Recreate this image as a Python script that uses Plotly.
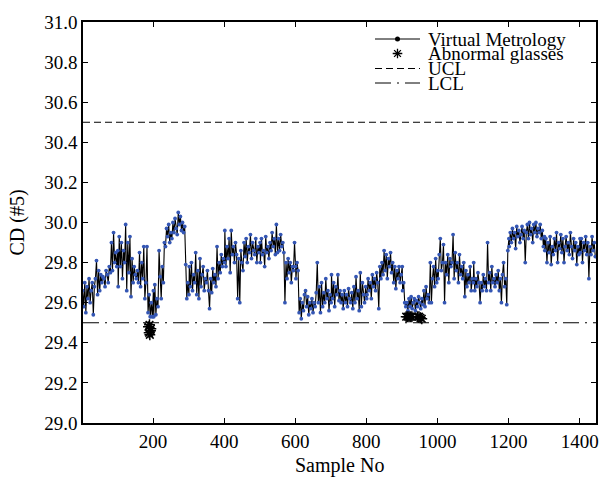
import plotly.graph_objects as go

# Virtual-metrology CD predictions, one value every 3rd glass, in 100-sample blocks
cd_0000 = [29.66, 29.58, 29.70, 29.55, 29.68, 29.62, 29.72, 29.60, 29.66, 29.70,
           29.54, 29.68, 29.72, 29.81, 29.64, 29.76, 29.66, 29.74, 29.70, 29.73,
           29.72, 29.68, 29.76, 29.74, 29.70, 29.78, 29.75, 29.90,
           29.76, 29.95, 29.80, 29.85, 29.78, 29.86]
cd_0100 = [29.68, 29.93, 29.78, 29.90, 29.72, 29.86, 29.80, 29.99,
           29.66, 29.90, 29.75, 29.93, 29.63, 29.82, 29.70, 29.78, 29.74, 29.72,
           29.76, 29.70, 29.85, 29.68, 29.80, 29.72,
           29.88, 29.62, 29.70, 29.88, 29.55, 29.64, 29.53, 29.60, 29.53, 29.66]
cd_0200 = [29.53, 29.69, 29.54, 29.62, 29.58,
           29.86, 29.73, 29.62, 29.78, 29.70,
           29.90, 29.88, 29.97, 29.93, 29.99, 29.90, 29.95, 29.92,
           30.00, 29.95, 30.02, 29.97, 29.94, 30.05, 29.99, 30.03, 29.96, 30.00, 29.95, 29.98,
           29.79, 29.62, 29.70, 29.64]
cd_0300 = [29.78, 29.68, 29.80, 29.66, 29.74, 29.70, 29.85, 29.64, 29.76, 29.62,
           29.82, 29.68, 29.74, 29.78, 29.66, 29.72, 29.70, 29.76, 29.66,
           29.57,
           29.72, 29.65, 29.77, 29.70, 29.74, 29.68,
           29.88, 29.72, 29.80, 29.75, 29.84, 29.78, 29.82, 29.80]
cd_0400 = [29.96, 29.78, 29.88, 29.82, 29.92, 29.75, 29.96, 29.84, 29.88, 29.80, 29.90, 29.84,
           29.62, 29.82, 29.60, 29.86, 29.80, 29.76,
           29.90, 29.83, 29.92, 29.80, 29.88, 29.85, 29.94, 29.82, 29.90, 29.86,
           29.84, 29.92, 29.80, 29.88, 29.85, 29.90]
cd_0500 = [29.80, 29.92, 29.84, 29.86, 29.78, 29.93, 29.85, 29.88, 29.82,
           29.90, 29.86, 29.95, 29.88, 29.92, 29.84, 29.99, 29.85, 29.92, 29.86,
           29.94, 29.88, 29.90, 29.85,
           29.60,
           29.80, 29.72, 29.82, 29.75, 29.80, 29.70, 29.78, 29.76, 29.90, 29.78]
cd_0600 = [29.72, 29.80, 29.76,
           29.55, 29.62, 29.52, 29.60, 29.56, 29.64, 29.66, 29.58, 29.63, 29.54,
           29.60, 29.57, 29.62, 29.55, 29.60, 29.58, 29.65,
           29.80,
           29.60, 29.68, 29.55, 29.70, 29.58, 29.65, 29.60, 29.72, 29.62, 29.66,
           29.56, 29.64, 29.60]
cd_0700 = [29.74, 29.62, 29.70, 29.58, 29.68, 29.64, 29.74, 29.61, 29.66, 29.60, 29.64,
           29.57, 29.66, 29.60, 29.64, 29.58, 29.67, 29.62, 29.60, 29.65, 29.57,
           29.68, 29.60, 29.73, 29.62, 29.66, 29.56, 29.75, 29.58, 29.70, 29.64,
           29.60, 29.68, 29.62]
cd_0800 = [29.64, 29.72, 29.66, 29.70, 29.62, 29.74, 29.68, 29.72, 29.66, 29.75, 29.70, 29.57,
           29.78, 29.72, 29.80, 29.74, 29.86, 29.76, 29.84, 29.72, 29.82, 29.78, 29.85,
           29.75, 29.80,
           29.70, 29.78, 29.67, 29.76, 29.72, 29.78, 29.70, 29.74, 29.78]
cd_0900 = [29.66, 29.70, 29.60, 29.58,
           29.60, 29.56, 29.62, 29.58, 29.63, 29.57, 29.60, 29.62, 29.56, 29.61,
           29.58, 29.63, 29.60, 29.57, 29.62, 29.59,
           29.66, 29.58, 29.68, 29.62, 29.64, 29.60,
           29.80, 29.60, 29.72, 29.78, 29.68, 29.82, 29.70, 29.76]
cd_1000 = [29.72, 29.84, 29.92, 29.76, 29.80, 29.89, 29.60, 29.80,
           29.74, 29.84, 29.70, 29.82, 29.78, 29.80, 29.94, 29.72, 29.85, 29.76,
           29.80, 29.70, 29.84, 29.74, 29.78, 29.72, 29.80,
           29.63, 29.76, 29.68, 29.74, 29.70, 29.78, 29.66, 29.72, 29.70]
cd_1100 = [29.80, 29.66, 29.72, 29.68, 29.75, 29.70, 29.60, 29.70, 29.66, 29.74,
           29.68, 29.72, 29.66, 29.90,
           29.70, 29.75, 29.66, 29.78, 29.70, 29.72, 29.68, 29.74, 29.70, 29.76,
           29.66, 29.72, 29.60,
           29.74, 29.80, 29.68, 29.72,
           29.59,
           29.86, 29.92]
cd_1200 = [29.88, 29.95, 29.90, 29.97, 29.92, 29.95, 29.87, 29.98, 29.93, 29.96,
           29.90, 29.94, 29.98, 29.92, 29.96, 29.80, 29.95, 29.99, 29.92, 30.00,
           29.94, 29.97, 29.90, 29.99, 29.95, 30.00, 29.93, 29.97, 29.95, 29.99,
           29.92, 29.96, 29.88, 29.93]
cd_1300 = [29.86, 29.92, 29.80, 29.90, 29.85, 29.93, 29.79, 29.88, 29.84, 29.92,
           29.86, 29.95, 29.80, 29.90, 29.87, 29.94, 29.85, 29.92, 29.80, 29.88,
           29.93, 29.86, 29.90, 29.84, 29.95, 29.88, 29.82, 29.92, 29.86, 29.90,
           29.79, 29.88, 29.84, 29.92]
cd_1400 = [29.85, 29.92, 29.80, 29.90, 29.86, 29.93, 29.84, 29.90, 29.72, 29.88,
           29.84, 29.93, 29.86, 29.90, 29.83]

cd_blocks = [cd_0000, cd_0100, cd_0200, cd_0300, cd_0400, cd_0500, cd_0600, cd_0700,
             cd_0800, cd_0900, cd_1000, cd_1100, cd_1200, cd_1300, cd_1400]

# sample numbers: each block starts at 100*k + 2 and steps by 3
sample_no, cd_vm = [], []
for k, block in enumerate(cd_blocks):
    sample_no += [100 * k + 2 + 3 * j for j in range(len(block))]
    cd_vm += block

# Glasses flagged as abnormal
abn_sample = [187, 189, 190, 191, 193, 194, 912, 916, 920, 924, 928, 944, 948, 952, 956]
abn_cd = [29.48, 29.45, 29.49, 29.44, 29.46, 29.47, 29.53, 29.53, 29.53, 29.53, 29.53,
          29.53, 29.53, 29.525, 29.52]

# Control limits
ucl = 30.5
lcl = 29.5

x_range = [3, 1446]
y_range = [29.0, 31.0]
x_ticks = [200, 400, 600, 800, 1000, 1200, 1400]
y_ticks = [29.0, 29.2, 29.4, 29.6, 29.8, 30.0, 30.2, 30.4, 30.6, 30.8, 31.0]

FONT = "Liberation Serif, Times New Roman, serif"
VM_BLUE = "rgb(52,86,180)"
UCL_DASH = "7px,4px"
LCL_DASH = "16px,6px,2px,6px"

# plot area in pixels, used to place the hand-built legend
W, H = 612, 480
L, R, T, B = 83, 16, 22, 57


def px_to_unit(px, py):
    return (px - L) / (W - L - R), (H - B - py) / (H - T - B)


fig = go.Figure()

fig.add_trace(go.Scatter(
    x=sample_no, y=cd_vm, mode="lines+markers",
    line=dict(color="black", width=1.1),
    marker=dict(color=VM_BLUE, size=3.8, line=dict(width=0)),
    showlegend=False))

fig.add_trace(go.Scatter(
    x=x_range, y=[ucl, ucl], mode="lines",
    line=dict(color="black", width=1, dash=UCL_DASH), showlegend=False))
fig.add_trace(go.Scatter(
    x=x_range, y=[lcl, lcl], mode="lines",
    line=dict(color="black", width=1, dash=LCL_DASH), showlegend=False))

fig.add_trace(go.Scatter(
    x=abn_sample, y=abn_cd, mode="markers",
    marker=dict(symbol="asterisk-open", size=9, color="black",
                line=dict(color="black", width=1.5)),
    showlegend=False))

# Legend keys drawn on an overlay axis spanning [0, 1]
rows = [39, 53.5, 68.5, 83]
labels = ["Virtual Metrology", "Abnormal glasses", "UCL", "LCL"]
x0, _ = px_to_unit(375, 0)
x1, _ = px_to_unit(420, 0)
xc, _ = px_to_unit(397.5, 0)
xt, _ = px_to_unit(426, 0)
v = [px_to_unit(0, r)[1] for r in rows]

key_kw = dict(xaxis="x2", yaxis="y2", showlegend=False, hoverinfo="skip")
fig.add_trace(go.Scatter(x=[x0, x1], y=[v[0], v[0]], mode="lines",
                         line=dict(color="black", width=1), **key_kw))
fig.add_trace(go.Scatter(x=[xc], y=[v[0]], mode="markers",
                         marker=dict(color="black", size=5), **key_kw))
fig.add_trace(go.Scatter(x=[xc], y=[v[1]], mode="markers",
                         marker=dict(symbol="asterisk-open", size=8, color="black",
                                     line=dict(color="black", width=1.3)), **key_kw))
fig.add_trace(go.Scatter(x=[x0, x1], y=[v[2], v[2]], mode="lines",
                         line=dict(color="black", width=1, dash=UCL_DASH), **key_kw))
fig.add_trace(go.Scatter(x=[x0, x1], y=[v[3], v[3]], mode="lines",
                         line=dict(color="black", width=1, dash=LCL_DASH), **key_kw))

text_font = dict(family=FONT, size=20, color="black")
annotations = [
    dict(x=xt, y=v[i], xref="x2", yref="y2", text=labels[i], showarrow=False,
         xanchor="left", yanchor="middle", font=dict(family=FONT, size=19, color="black"))
    for i in range(4)
]
annotations.append(dict(x=0.5, y=-0.105, xref="paper", yref="paper", text="Sample No",
                        showarrow=False, xanchor="center", yanchor="middle", font=text_font))
annotations.append(dict(x=(17 - L) / (W - L - R), y=0.5, xref="paper", yref="paper",
                        text="CD (#5)", showarrow=False, textangle=-90,
                        xanchor="center", yanchor="middle", font=text_font))

axis_common = dict(showline=True, linecolor="black", linewidth=1.5, mirror="ticks",
                   ticks="inside", ticklen=5, tickwidth=1, tickcolor="black",
                   showgrid=False, zeroline=False,
                   tickfont=dict(family=FONT, size=19, color="black"))

fig.update_layout(
    width=W, height=H,
    margin=dict(l=L, r=R, t=T, b=B),
    paper_bgcolor="white", plot_bgcolor="white",
    font=dict(family=FONT, size=19, color="black"),
    xaxis=dict(range=x_range, tickvals=x_ticks, **axis_common),
    yaxis=dict(range=y_range, tickvals=y_ticks, tickformat=".1f", **axis_common),
    xaxis2=dict(overlaying="x", range=[0, 1], visible=False),
    yaxis2=dict(overlaying="y", range=[0, 1], visible=False),
    annotations=annotations,
    showlegend=False,
)

fig.write_html("out.html")
